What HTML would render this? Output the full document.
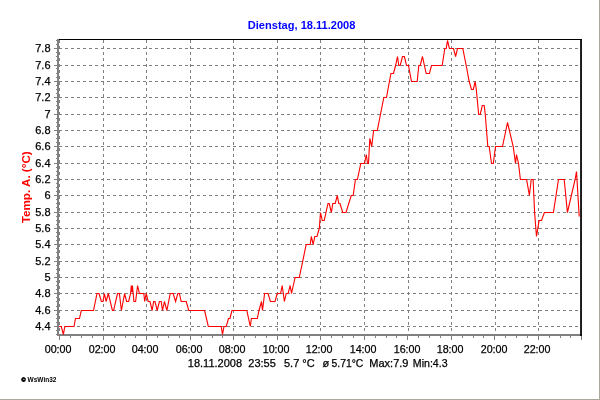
<!DOCTYPE html>
<html lang="de"><head><meta charset="utf-8"><title>Dienstag, 18.11.2008</title>
<style>
html,body{margin:0;padding:0;background:#fff;overflow:hidden}
#w{position:relative;width:600px;height:400px;background:#fff;overflow:hidden}
#w:before{content:"";position:absolute;left:598.6px;top:0;width:1.4px;height:400px;background:#aca899}
#w:after{content:"";position:absolute;left:0;top:398.6px;width:600px;height:1.4px;background:#aca899}
svg{position:absolute;left:0;top:0}
svg text{font-family:"Liberation Sans",Arial,sans-serif}
</style></head><body><div id="w">
<svg width="600" height="400" viewBox="0 0 600 400">
<g shape-rendering="crispEdges">
<g stroke="#808080" stroke-width="1" stroke-dasharray="3 3" fill="none">
<line x1="59" y1="326.5" x2="580" y2="326.5"/>
<line x1="59" y1="310.5" x2="580" y2="310.5"/>
<line x1="59" y1="293.5" x2="580" y2="293.5"/>
<line x1="59" y1="277.5" x2="580" y2="277.5"/>
<line x1="59" y1="261.5" x2="580" y2="261.5"/>
<line x1="59" y1="244.5" x2="580" y2="244.5"/>
<line x1="59" y1="228.5" x2="580" y2="228.5"/>
<line x1="59" y1="212.5" x2="580" y2="212.5"/>
<line x1="59" y1="195.5" x2="580" y2="195.5"/>
<line x1="59" y1="179.5" x2="580" y2="179.5"/>
<line x1="59" y1="163.5" x2="580" y2="163.5"/>
<line x1="59" y1="146.5" x2="580" y2="146.5"/>
<line x1="59" y1="130.5" x2="580" y2="130.5"/>
<line x1="59" y1="114.5" x2="580" y2="114.5"/>
<line x1="59" y1="97.5" x2="580" y2="97.5"/>
<line x1="59" y1="81.5" x2="580" y2="81.5"/>
<line x1="59" y1="65.5" x2="580" y2="65.5"/>
<line x1="59" y1="48.5" x2="580" y2="48.5"/>
<line x1="59.5" y1="40" x2="59.5" y2="334"/>
<line x1="103.5" y1="40" x2="103.5" y2="334"/>
<line x1="146.5" y1="40" x2="146.5" y2="334"/>
<line x1="190.5" y1="40" x2="190.5" y2="334"/>
<line x1="233.5" y1="40" x2="233.5" y2="334"/>
<line x1="277.5" y1="40" x2="277.5" y2="334"/>
<line x1="320.5" y1="40" x2="320.5" y2="334"/>
<line x1="364.5" y1="40" x2="364.5" y2="334"/>
<line x1="408.5" y1="40" x2="408.5" y2="334"/>
<line x1="451.5" y1="40" x2="451.5" y2="334"/>
<line x1="495.5" y1="40" x2="495.5" y2="334"/>
<line x1="538.5" y1="40" x2="538.5" y2="334"/>
</g>
<rect x="57" y="39" width="2" height="297" fill="#808080"/>
<rect x="57" y="334" width="525" height="2" fill="#808080"/>
<rect x="59" y="39" width="523" height="1" fill="#000"/>
<g fill="#808080">
<rect x="54" y="326" width="3" height="1"/>
<rect x="54" y="310" width="3" height="1"/>
<rect x="54" y="293" width="3" height="1"/>
<rect x="54" y="277" width="3" height="1"/>
<rect x="54" y="261" width="3" height="1"/>
<rect x="54" y="244" width="3" height="1"/>
<rect x="54" y="228" width="3" height="1"/>
<rect x="54" y="212" width="3" height="1"/>
<rect x="54" y="195" width="3" height="1"/>
<rect x="54" y="179" width="3" height="1"/>
<rect x="54" y="163" width="3" height="1"/>
<rect x="54" y="146" width="3" height="1"/>
<rect x="54" y="130" width="3" height="1"/>
<rect x="54" y="114" width="3" height="1"/>
<rect x="54" y="97" width="3" height="1"/>
<rect x="54" y="81" width="3" height="1"/>
<rect x="54" y="65" width="3" height="1"/>
<rect x="54" y="48" width="3" height="1"/>
<rect x="56" y="334" width="1" height="1"/>
<rect x="56" y="330" width="1" height="1"/>
<rect x="56" y="322" width="1" height="1"/>
<rect x="56" y="318" width="1" height="1"/>
<rect x="56" y="314" width="1" height="1"/>
<rect x="56" y="306" width="1" height="1"/>
<rect x="56" y="301" width="1" height="1"/>
<rect x="56" y="297" width="1" height="1"/>
<rect x="56" y="289" width="1" height="1"/>
<rect x="56" y="285" width="1" height="1"/>
<rect x="56" y="281" width="1" height="1"/>
<rect x="56" y="273" width="1" height="1"/>
<rect x="56" y="269" width="1" height="1"/>
<rect x="56" y="265" width="1" height="1"/>
<rect x="56" y="257" width="1" height="1"/>
<rect x="56" y="252" width="1" height="1"/>
<rect x="56" y="248" width="1" height="1"/>
<rect x="56" y="240" width="1" height="1"/>
<rect x="56" y="236" width="1" height="1"/>
<rect x="56" y="232" width="1" height="1"/>
<rect x="56" y="224" width="1" height="1"/>
<rect x="56" y="220" width="1" height="1"/>
<rect x="56" y="216" width="1" height="1"/>
<rect x="56" y="207" width="1" height="1"/>
<rect x="56" y="203" width="1" height="1"/>
<rect x="56" y="199" width="1" height="1"/>
<rect x="56" y="191" width="1" height="1"/>
<rect x="56" y="187" width="1" height="1"/>
<rect x="56" y="183" width="1" height="1"/>
<rect x="56" y="175" width="1" height="1"/>
<rect x="56" y="171" width="1" height="1"/>
<rect x="56" y="167" width="1" height="1"/>
<rect x="56" y="158" width="1" height="1"/>
<rect x="56" y="154" width="1" height="1"/>
<rect x="56" y="150" width="1" height="1"/>
<rect x="56" y="142" width="1" height="1"/>
<rect x="56" y="138" width="1" height="1"/>
<rect x="56" y="134" width="1" height="1"/>
<rect x="56" y="126" width="1" height="1"/>
<rect x="56" y="122" width="1" height="1"/>
<rect x="56" y="118" width="1" height="1"/>
<rect x="56" y="109" width="1" height="1"/>
<rect x="56" y="105" width="1" height="1"/>
<rect x="56" y="101" width="1" height="1"/>
<rect x="56" y="93" width="1" height="1"/>
<rect x="56" y="89" width="1" height="1"/>
<rect x="56" y="85" width="1" height="1"/>
<rect x="56" y="77" width="1" height="1"/>
<rect x="56" y="73" width="1" height="1"/>
<rect x="56" y="68" width="1" height="1"/>
<rect x="56" y="60" width="1" height="1"/>
<rect x="56" y="56" width="1" height="1"/>
<rect x="56" y="52" width="1" height="1"/>
<rect x="56" y="44" width="1" height="1"/>
<rect x="56" y="40" width="1" height="1"/>
<rect x="59" y="336" width="1" height="4"/>
<rect x="70" y="336" width="1" height="2"/>
<rect x="81" y="336" width="1" height="2"/>
<rect x="92" y="336" width="1" height="2"/>
<rect x="103" y="336" width="1" height="4"/>
<rect x="114" y="336" width="1" height="2"/>
<rect x="125" y="336" width="1" height="2"/>
<rect x="135" y="336" width="1" height="2"/>
<rect x="146" y="336" width="1" height="4"/>
<rect x="157" y="336" width="1" height="2"/>
<rect x="168" y="336" width="1" height="2"/>
<rect x="179" y="336" width="1" height="2"/>
<rect x="190" y="336" width="1" height="4"/>
<rect x="201" y="336" width="1" height="2"/>
<rect x="212" y="336" width="1" height="2"/>
<rect x="222" y="336" width="1" height="2"/>
<rect x="233" y="336" width="1" height="4"/>
<rect x="244" y="336" width="1" height="2"/>
<rect x="255" y="336" width="1" height="2"/>
<rect x="266" y="336" width="1" height="2"/>
<rect x="277" y="336" width="1" height="4"/>
<rect x="288" y="336" width="1" height="2"/>
<rect x="299" y="336" width="1" height="2"/>
<rect x="309" y="336" width="1" height="2"/>
<rect x="320" y="336" width="1" height="4"/>
<rect x="331" y="336" width="1" height="2"/>
<rect x="342" y="336" width="1" height="2"/>
<rect x="353" y="336" width="1" height="2"/>
<rect x="364" y="336" width="1" height="4"/>
<rect x="375" y="336" width="1" height="2"/>
<rect x="386" y="336" width="1" height="2"/>
<rect x="396" y="336" width="1" height="2"/>
<rect x="407" y="336" width="1" height="4"/>
<rect x="418" y="336" width="1" height="2"/>
<rect x="429" y="336" width="1" height="2"/>
<rect x="440" y="336" width="1" height="2"/>
<rect x="451" y="336" width="1" height="4"/>
<rect x="462" y="336" width="1" height="2"/>
<rect x="473" y="336" width="1" height="2"/>
<rect x="483" y="336" width="1" height="2"/>
<rect x="494" y="336" width="1" height="4"/>
<rect x="505" y="336" width="1" height="2"/>
<rect x="516" y="336" width="1" height="2"/>
<rect x="527" y="336" width="1" height="2"/>
<rect x="538" y="336" width="1" height="4"/>
<rect x="549" y="336" width="1" height="2"/>
<rect x="560" y="336" width="1" height="2"/>
<rect x="570" y="336" width="1" height="2"/>
<rect x="581" y="336" width="1" height="4"/>
</g>
</g>
<rect x="580.15" y="39" width="1.75" height="297" fill="#000"/>
<polyline points="59.0,326.5 61.3,326.5 63.4,334.5 64.8,326.5 74.0,326.5 75.5,318.5 79.5,318.5 81.3,310.5 93.5,310.5 97.0,293.5 99.0,293.5 101.4,301.5 103.0,301.5 104.4,293.5 106.1,301.5 108.3,293.5 112.4,310.5 113.6,310.5 117.5,293.5 119.4,293.5 121.4,310.5 124.6,293.5 126.6,301.5 128.6,301.5 130.6,293.5 131.3,285.5 131.8,291.9 132.4,285.5 133.9,301.5 135.6,301.5 137.6,285.5 139.4,293.5 143.8,293.5 144.7,301.5 146.2,293.5 148.2,301.5 150.0,301.5 152.2,310.5 153.6,301.5 155.0,301.5 157.2,310.5 159.4,301.5 161.2,301.5 162.5,310.5 164.4,301.5 166.9,310.5 170.2,293.5 173.1,293.5 175.6,301.5 177.8,293.5 179.4,293.5 181.2,301.5 186.2,301.5 188.8,310.5 204.6,310.5 208.3,326.5 221.2,326.5 222.5,334.5 224.0,326.5 226.2,326.5 228.5,318.5 230.0,318.5 231.9,310.5 246.8,310.5 250.3,326.5 251.4,318.5 257.3,318.5 259.0,310.5 261.5,301.5 262.5,310.5 264.6,293.5 268.1,293.5 270.4,301.5 275.0,301.5 277.2,293.5 280.6,293.5 282.2,285.5 284.4,301.5 286.2,293.5 288.1,293.5 290.2,285.5 291.5,293.5 295.1,277.5 299.3,277.5 306.2,244.5 310.2,244.5 311.3,236.5 313.2,244.5 314.8,236.5 317.0,236.5 319.3,228.5 320.5,212.5 322.3,220.5 324.2,220.5 328.0,203.5 329.2,203.5 331.4,212.5 332.8,203.5 335.2,203.5 337.3,195.5 338.8,203.5 340.0,203.5 342.7,212.5 346.0,212.5 351.2,195.5 353.2,195.5 355.4,179.5 357.4,179.5 360.8,163.5 364.5,163.5 366.3,154.5 367.5,163.5 368.5,163.5 369.8,138.5 371.7,146.5 373.6,130.5 377.3,130.5 383.8,97.5 386.5,97.5 389.4,81.5 391.0,73.5 393.5,73.5 395.6,65.5 397.5,56.5 398.8,65.5 400.2,65.5 402.5,56.5 404.4,56.5 406.5,65.5 408.5,65.5 411.5,81.5 417.2,81.5 418.8,65.5 420.2,65.5 422.5,56.5 424.4,65.5 426.2,73.5 429.4,73.5 431.5,65.5 442.2,65.5 444.8,48.5 446.2,48.5 447.5,40.5 449.4,48.5 453.5,48.5 455.6,56.5 457.5,48.5 462.8,48.5 466.2,65.5 469.2,81.5 471.5,89.5 473.3,89.5 475.2,81.5 476.3,89.5 477.8,105.5 478.7,114.5 480.2,114.5 482.3,105.5 484.2,105.5 485.3,114.5 485.9,122.5 487.8,146.5 489.2,146.5 491.5,163.5 493.3,163.5 495.5,146.5 502.5,146.5 507.5,122.5 513.2,146.5 515.5,163.5 516.5,154.5 518.5,163.5 520.4,179.5 526.6,179.5 529.4,195.5 531.2,179.5 533.1,179.5 534.6,212.5 536.5,236.5 539.1,220.5 541.5,220.5 544.4,212.5 553.4,212.5 558.5,179.5 564.2,179.5 567.4,212.5 575.1,179.5 576.5,171.5 577.0,179.5 579.2,216.5" fill="none" stroke="#ff0000" stroke-width="1.12" stroke-linejoin="miter"/>
<g font-size="11" fill="#000" stroke="#000" stroke-width="0.25" text-anchor="end">
<text x="50.5" y="330">4.4</text>
<text x="50.5" y="314">4.6</text>
<text x="50.5" y="297">4.8</text>
<text x="50.5" y="281">5</text>
<text x="50.5" y="265">5.2</text>
<text x="50.5" y="248">5.4</text>
<text x="50.5" y="232">5.6</text>
<text x="50.5" y="216">5.8</text>
<text x="50.5" y="199">6</text>
<text x="50.5" y="183">6.2</text>
<text x="50.5" y="167">6.4</text>
<text x="50.5" y="150">6.6</text>
<text x="50.5" y="134">6.8</text>
<text x="50.5" y="118">7</text>
<text x="50.5" y="101">7.2</text>
<text x="50.5" y="85">7.4</text>
<text x="50.5" y="69">7.6</text>
<text x="50.5" y="52">7.8</text>
</g>
<g font-size="11" fill="#000" stroke="#000" stroke-width="0.25" text-anchor="middle">
<text x="58.1" y="353" textLength="26.8" lengthAdjust="spacingAndGlyphs">00:00</text>
<text x="102.1" y="353" textLength="26.8" lengthAdjust="spacingAndGlyphs">02:00</text>
<text x="145.1" y="353" textLength="26.8" lengthAdjust="spacingAndGlyphs">04:00</text>
<text x="189.1" y="353" textLength="26.8" lengthAdjust="spacingAndGlyphs">06:00</text>
<text x="232.1" y="353" textLength="26.8" lengthAdjust="spacingAndGlyphs">08:00</text>
<text x="276.1" y="353" textLength="26.8" lengthAdjust="spacingAndGlyphs">10:00</text>
<text x="319.1" y="353" textLength="26.8" lengthAdjust="spacingAndGlyphs">12:00</text>
<text x="363.1" y="353" textLength="26.8" lengthAdjust="spacingAndGlyphs">14:00</text>
<text x="407.1" y="353" textLength="26.8" lengthAdjust="spacingAndGlyphs">16:00</text>
<text x="450.1" y="353" textLength="26.8" lengthAdjust="spacingAndGlyphs">18:00</text>
<text x="494.1" y="353" textLength="26.8" lengthAdjust="spacingAndGlyphs">20:00</text>
<text x="537.1" y="353" textLength="26.8" lengthAdjust="spacingAndGlyphs">22:00</text>
</g>
<g font-size="11" fill="#000" stroke="#000" stroke-width="0.25">
<text x="187.8" y="367">18.11.2008</text>
<text x="248.3" y="367">23:55</text>
<text x="284.0" y="367">5.7 °C</text>
<text x="322.5" y="367">ø</text>
<text x="331.5" y="367" textLength="31.8" lengthAdjust="spacingAndGlyphs">5.71°C</text>
<text x="369.3" y="367">Max:7.9</text>
<text x="412.8" y="367" textLength="34.8" lengthAdjust="spacingAndGlyphs">Min:4.3</text>
</g>
<text x="247.8" y="29" font-size="11" font-weight="bold" fill="#0000ff" textLength="107.6" lengthAdjust="spacingAndGlyphs">Dienstag, 18.11.2008</text>
<text transform="translate(30,223.3) rotate(-90)" font-size="11" font-weight="bold" fill="#ff0000" textLength="72" lengthAdjust="spacingAndGlyphs">Temp. A. (°C)</text>
<text x="21.5" y="381.7" font-size="5.6" font-weight="bold" fill="#000" stroke="#000" stroke-width="0.55">©</text>
<text x="27.6" y="382" font-size="6.6" font-weight="bold" fill="#000" textLength="28.8" lengthAdjust="spacingAndGlyphs">WsWin32</text>
</svg></div></body></html>
